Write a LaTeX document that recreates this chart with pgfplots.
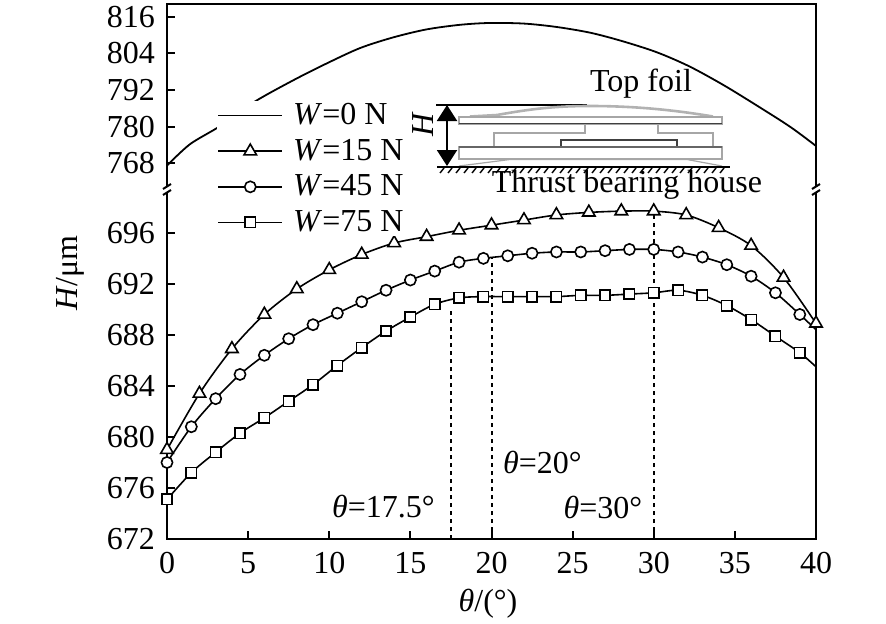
\documentclass[border=0pt]{standalone}
\usepackage{fontspec}
\setmainfont{Liberation Serif}
\usepackage{pgfplots}
\pgfplotsset{compat=1.18}
\usetikzlibrary{arrows.meta}
\newcommand\fs{\fontsize{16pt}{19pt}\selectfont}

\pgfplotstableread{
x y
0 767.3
1.42 774.3
3.27 780.2
5.38 788.1
7.79 795.2
9.85 800.7
11.9 805.7
13.95 809.2
16 811.8
18.06 813.3
19.9 813.9
22 813.7
24 812.6
26.1 810.7
28.1 807.9
30.2 804.3
32.2 799.7
34.3 793.6
36.3 787.1
38.4 780.0
40 773.7
}\Wzero

\pgfplotstableread{
x y
0 679.0
2 683.4
4 686.9
6 689.6
8 691.6
10 693.1
12 694.3
14 695.2
16 695.7
18 696.2
20 696.6
22 697.0
24 697.4
26 697.6
28 697.7
30 697.7
32 697.4
34 696.4
36 695.0
38 692.5
40 688.9
}\Wfifteen

\pgfplotstableread{
x y
0 678.0
1.5 680.8
3 683.0
4.5 684.9
6 686.4
7.5 687.7
9 688.8
10.5 689.7
12 690.6
13.5 691.5
15 692.3
16.5 693.0
18 693.7
19.5 694.0
21 694.2
22.5 694.4
24 694.5
25.5 694.5
27 694.6
28.5 694.7
30 694.7
31.5 694.5
33 694.1
34.5 693.5
36 692.6
37.5 691.3
39 689.6
40 688.4
}\Wfortyfive

\pgfplotstableread{
x y
0 675.1
1.5 677.2
3 678.8
4.5 680.3
6 681.5
7.5 682.8
9 684.1
10.5 685.6
12 687.0
13.5 688.3
15 689.4
16.5 690.4
18 690.9
19.5 691.0
21 691.0
22.5 691.0
24 691.0
25.5 691.1
27 691.1
28.5 691.2
30 691.3
31.5 691.5
33 691.1
34.5 690.3
36 689.2
37.5 687.9
39 686.6
40 685.5
}\Wseventyfive

\pgfplotsset{
  common/.style={
    scale only axis, width=324.5pt, xmin=0, xmax=40,
    axis line style={draw=none},
    tick align=inside, major tick length=4pt,
    tick style={line width=1pt, black},
    every tick label/.append style={font=\fs},
    /pgf/number format/assume math mode=true,
    clip=false,
    yticklabel style={xshift=-2.5pt},
  },
  s15/.style={black, line width=0.8pt, smooth, mark=triangle*, mark size=3.6pt, mark options={fill=white, line width=0.8pt, solid}},
  s45/.style={black, line width=0.8pt, smooth, mark=*, mark size=2.8pt, mark options={fill=white, line width=0.8pt, solid}},
  s75/.style={black, line width=0.8pt, smooth, mark=square*, mark size=2.6pt, mark options={fill=white, line width=0.8pt, solid}},
  vdot/.style={black, line width=1pt, dash pattern=on 2pt off 2pt},
}

\begin{document}
\begin{tikzpicture}
\path[use as bounding box] (0,0) rectangle (443pt,311.5pt);

% lower axis
\begin{axis}[common, at={(83.5pt,42pt)}, anchor=south west, height=173.5pt,
  ymin=672, ymax=699.2,
  xtick={0,5,...,40}, ytick={672,676,...,696},
  xtick pos=left, ytick pos=left,
  xticklabel style={yshift=-3pt},
]
\draw[line width=1pt] (rel axis cs:0,1) -- (rel axis cs:0,0) -- (rel axis cs:1,0) -- (rel axis cs:1,1);
\addplot[vdot] coordinates {(17.5,672) (17.5,690.0)};
\addplot[vdot] coordinates {(20,672) (20,694.0)};
\addplot[vdot] coordinates {(30,672) (30,697.6)};
\addplot[s75, mark indices={1,...,27}] table {\Wseventyfive};
\addplot[s45, mark indices={1,...,27}] table {\Wfortyfive};
\addplot[s15] table {\Wfifteen};
\end{axis}

% upper axis
\begin{axis}[common, at={(83.5pt,218pt)}, anchor=south west, height=91.35pt,
  ymin=760.3, ymax=820,
  xtick=\empty, ytick={768,780,...,816}, ytick pos=left,
  legend style={at={(0.077,0.4707)}, anchor=north west, draw=none, fill=white,
    inner xsep=0pt, inner ysep=0pt, font=\fs, row sep=3.75pt, column sep=2pt,
    nodes={inner xsep=3pt, inner ysep=1pt}},
  legend cell align=left,
  legend image code/.code={\draw[mark repeat=2,mark phase=2,#1] plot coordinates {(0pt,0pt) (16pt,0pt) (32pt,0pt)};},
]
\draw[line width=1pt] (rel axis cs:0,0) -- (rel axis cs:0,1) -- (rel axis cs:1,1) -- (rel axis cs:1,0);
\addplot[black, line width=0.9pt, smooth, no marks] table {\Wzero};
\addlegendentry{\textit{W}=0 N}
\addlegendimage{s15}
\addlegendentry{\textit{W}=15 N}
\addlegendimage{s45}
\addlegendentry{\textit{W}=45 N}
\addlegendimage{s75}
\addlegendentry{\textit{W}=75 N}
\end{axis}

% pixel-coordinate scope for annotations
\begin{scope}[x=0.5pt,y=-0.5pt,shift={(0pt,311.5pt)}]
% axis breaks
\fill[white] (163,187) rectangle (171,192);
\fill[white] (812,187) rectangle (820,192);
\draw[line width=1pt] (163,189) -- (171,184);
\draw[line width=1pt] (163,195) -- (171,190);
\draw[line width=1pt] (812,189) -- (820,184);
\draw[line width=1pt] (812,195) -- (820,190);

% axis labels
\node[font=\fs, rotate=90] at (70,273) {\textit{H}/μm};
\node[font=\fs] at (488,604) {\textit{θ}/(°)};

% theta annotations
\node[font=\fs, anchor=base] at (383.5,517) {\textit{θ}=17.5°};
\node[font=\fs, anchor=base] at (542.5,473) {\textit{θ}=20°};
\node[font=\fs, anchor=base] at (603,518) {\textit{θ}=30°};

% inset schematic
\draw[line width=1.1pt] (436,105) -- (587,105);
\draw[gray!60, line width=1.3pt] (470,116.5) -- (497,115) .. controls (530,109) and (555,106) .. (590,106) .. controls (640,106) and (680,111) .. (713,116.5);
\draw[gray!70, line width=0.6pt] (459,117) rectangle (722,124);
\draw[black!75, line width=0.8pt] (459,123.5) -- (722,123.5);
\draw[gray!70, line width=0.6pt] (585,124) -- (585,133) -- (494,133) -- (494,147);
\draw[gray!70, line width=0.6pt] (658,124) -- (658,133) -- (713,133) -- (713,147);
\draw[black!75, line width=0.7pt] (561,147) -- (561,140) -- (677,140) -- (677,147);
\draw[gray!70, line width=0.6pt] (459,147) rectangle (722,159);
\draw[black!60, line width=0.7pt] (459,147) -- (722,147);
\draw[gray!70, line width=0.6pt] (459,166) -- (510,159.5) -- (687,159.5) -- (722,166);
\draw[line width=1.1pt] (437,167) -- (730,167);
\foreach \x in {444,452,...,730} \draw[line width=0.7pt] (\x,168) -- (\x-4,173);
\draw[line width=1pt, {Triangle[width=10pt,length=8pt]}-{Triangle[width=10pt,length=8pt]}] (447,105) -- (447,166);
\node[font=\fs\itshape, rotate=90] at (423,125) {H};
\node[font=\fs, anchor=base] at (641,91) {Top foil};
\node[font=\fs, anchor=base] at (627,192) {Thrust bearing house};
\end{scope}
\end{tikzpicture}
\end{document}
